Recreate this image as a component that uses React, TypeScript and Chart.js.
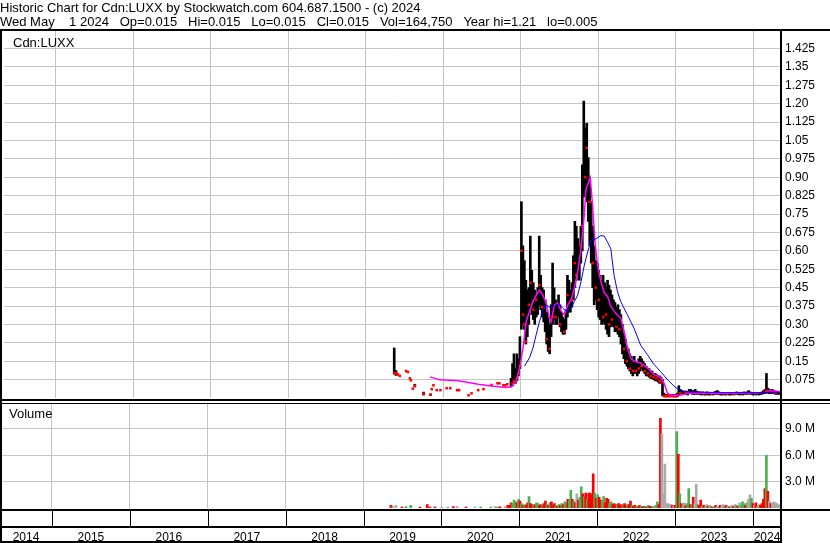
import React, { useEffect, useRef } from 'react';
import { Chart, registerables } from 'chart.js';
Chart.register(...registerables);

const FONT = "'Liberation Sans', Arial, sans-serif";
const GRID = '#c4c4c4';

// ---------- text ----------
const headerLines = [
  'Historic Chart for Cdn:LUXX by Stockwatch.com 604.687.1500 - (c) 2024',
  'Wed May    1 2024   Op=0.015   Hi=0.015   Lo=0.015   Cl=0.015   Vol=164,750   Year hi=1.21   lo=0.005',
];
const symbolLabel = 'Cdn:LUXX';
const volumeLabel = 'Volume';

// ---------- axes ----------
const xStart = 2014.3325;
const xEnd = 2024.359;
const yearBoundaries = [2015, 2016, 2017, 2018, 2019, 2020, 2021, 2022, 2023, 2024];
const yearLabels = ['2014', '2015', '2016', '2017', '2018', '2019', '2020', '2021', '2022', '2023', '2024'];
const priceMax = 1.5;
const priceTickValues = [0.075, 0.15, 0.225, 0.3, 0.375, 0.45, 0.525, 0.6, 0.675, 0.75, 0.825, 0.9, 0.975, 1.05, 1.125, 1.2, 1.275, 1.35, 1.425];
const priceTickLabels = ['0.075', '0.15', '0.225', '0.30', '0.375', '0.45', '0.525', '0.60', '0.675', '0.75', '0.825', '0.90', '0.975', '1.05', '1.125', '1.20', '1.275', '1.35', '1.425'];
const volumeMax = 12;
const volumeTickValues = [3, 6, 9];
const volumeTickLabels = ['3.0 M', '6.0 M', '9.0 M'];

// ---------- early sparse trading 2019-2020 ----------
// [year, low, high]
const earlyBars = [
  [2019.368, 0.100, 0.204], [2019.390, 0.092, 0.112], [2019.634, 0.045, 0.056],
  [2019.746, 0.012, 0.024], [2019.836, 0.010, 0.016],
];
// [year, close]
const earlyCloses = [
  [2019.368, 0.100], [2019.381, 0.101], [2019.400, 0.100], [2019.416, 0.096], [2019.440, 0.090],
  [2019.520, 0.110], [2019.545, 0.106], [2019.570, 0.080], [2019.583, 0.072], [2019.608, 0.038],
  [2019.634, 0.050], [2019.746, 0.018], [2019.836, 0.014], [2019.852, 0.036], [2019.874, 0.052],
  [2019.917, 0.032], [2019.964, 0.032], [2020.045, 0.040], [2020.092, 0.040], [2020.180, 0.032],
  [2020.205, 0.032], [2020.327, 0.011], [2020.366, 0.019], [2020.452, 0.032], [2020.520, 0.036],
  [2020.623, 0.053], [2020.700, 0.060], [2020.725, 0.060], [2020.777, 0.052], [2020.802, 0.052],
  [2020.828, 0.056],
];
// [year, volume (M), colour]
const earlyVolume = [
  [2019.352, 0.3, 'r'], [2019.377, 0.2, 's'], [2019.416, 0.3, 's'], [2019.493, 0.1, 'r'], [2019.544, 0.15, 'g'],
  [2019.605, 0.3, 'g'], [2019.724, 0.1, 'r'], [2019.818, 0.4, 'r'], [2019.852, 0.1, 'r'], [2019.917, 0.1, 'r'],
  [2020.003, 0.1, 's'], [2020.080, 0.1, 's'], [2020.152, 0.15, 'r'], [2020.203, 0.15, 's'], [2020.315, 0.1, 'r'],
  [2020.430, 0.1, 's'], [2020.503, 0.1, 'g'], [2020.632, 0.1, 'g'], [2020.687, 0.15, 's'], [2020.720, 0.1, 'g'],
  [2020.751, 0.12, 'r'], [2020.815, 0.15, 's'], [2020.850, 0.3, 'r'],
];

// ---------- weekly trading from Nov 2020 ----------
const weekStart = 2020.875;
const weekStep = 7 / 365.25;
const weeklyHigh = [
  0.08, 0.14, 0.18, 0.12, 0.18, 0.16, 0.25, 0.80, 0.62, 0.56,
  0.48, 0.44, 0.45, 0.66, 0.52, 0.47, 0.44, 0.42, 0.45, 0.66,
  0.50, 0.45, 0.44, 0.40, 0.35, 0.33, 0.30, 0.38, 0.55, 0.45,
  0.40, 0.38, 0.42, 0.38, 0.35, 0.33, 0.32, 0.36, 0.50, 0.48,
  0.44, 0.47, 0.58, 0.72, 0.70, 0.65, 0.62, 0.70, 0.95, 1.21,
  1.10, 1.12, 0.98, 0.90, 0.80, 0.70, 0.62, 0.56, 0.55, 0.52,
  0.50, 0.48, 0.50, 0.47, 0.45, 0.48, 0.46, 0.44, 0.42, 0.40,
  0.39, 0.37, 0.38, 0.36, 0.34, 0.30, 0.26, 0.24, 0.21, 0.20,
  0.18, 0.17, 0.16, 0.17, 0.15, 0.14, 0.16, 0.17, 0.16, 0.15,
  0.14, 0.13, 0.12, 0.12, 0.11, 0.11, 0.10, 0.10, 0.095, 0.09,
  0.09, 0.085, 0.075, 0.02, 0.015, 0.015, 0.012, 0.015, 0.012, 0.015,
  0.012, 0.015, 0.02, 0.05, 0.035, 0.03, 0.028, 0.025, 0.025, 0.022,
  0.035, 0.035, 0.03, 0.03, 0.035, 0.028, 0.025, 0.025, 0.022, 0.025,
  0.022, 0.02, 0.025, 0.022, 0.02, 0.022, 0.02, 0.025, 0.028, 0.03,
  0.025, 0.022, 0.02, 0.022, 0.02, 0.02, 0.022, 0.02, 0.02, 0.022,
  0.02, 0.022, 0.025, 0.022, 0.02, 0.022, 0.02, 0.025, 0.022, 0.025,
  0.03, 0.025, 0.022, 0.02, 0.022, 0.02, 0.022, 0.02, 0.022, 0.025,
  0.03, 0.035, 0.10, 0.04, 0.035, 0.03, 0.035, 0.03, 0.028, 0.025,
  0.025, 0.02,
];
const weeklyLow = [
  0.045, 0.05, 0.06, 0.06, 0.07, 0.09, 0.12, 0.28, 0.30, 0.28,
  0.22, 0.25, 0.30, 0.36, 0.34, 0.32, 0.30, 0.33, 0.34, 0.38,
  0.36, 0.33, 0.31, 0.27, 0.22, 0.19, 0.18, 0.25, 0.30, 0.32,
  0.30, 0.30, 0.33, 0.29, 0.27, 0.26, 0.26, 0.28, 0.33, 0.35,
  0.35, 0.37, 0.40, 0.45, 0.48, 0.50, 0.48, 0.55, 0.60, 0.82,
  0.85, 0.80, 0.72, 0.62, 0.55, 0.45, 0.38, 0.40, 0.36, 0.33,
  0.32, 0.30, 0.31, 0.30, 0.28, 0.26, 0.25, 0.29, 0.30, 0.29,
  0.27, 0.27, 0.26, 0.25, 0.22, 0.18, 0.16, 0.14, 0.13, 0.12,
  0.11, 0.10, 0.09, 0.10, 0.10, 0.09, 0.10, 0.11, 0.12, 0.11,
  0.10, 0.09, 0.09, 0.085, 0.08, 0.08, 0.075, 0.07, 0.07, 0.065,
  0.06, 0.06, 0.01, 0.005, 0.005, 0.005, 0.005, 0.005, 0.005, 0.005,
  0.005, 0.005, 0.005, 0.01, 0.015, 0.015, 0.015, 0.015, 0.015, 0.012,
  0.02, 0.02, 0.015, 0.015, 0.015, 0.015, 0.015, 0.015, 0.012, 0.015,
  0.012, 0.012, 0.015, 0.012, 0.012, 0.015, 0.012, 0.015, 0.015, 0.015,
  0.015, 0.012, 0.012, 0.015, 0.012, 0.012, 0.015, 0.012, 0.012, 0.015,
  0.012, 0.015, 0.015, 0.015, 0.012, 0.015, 0.012, 0.015, 0.015, 0.015,
  0.018, 0.015, 0.015, 0.012, 0.015, 0.012, 0.015, 0.012, 0.015, 0.015,
  0.018, 0.018, 0.02, 0.02, 0.018, 0.018, 0.02, 0.018, 0.015, 0.015,
  0.015, 0.015,
];
// [week index, close] marked in red
const weeklyRedCloses = [
  [1, 0.06], [2, 0.07], [4, 0.08], [5, 0.10], [6, 0.13], [7, 0.60], [8, 0.34], [9, 0.30], [10, 0.23],
  [12, 0.38], [13, 0.47], [15, 0.36], [17, 0.40], [19, 0.46], [21, 0.37], [24, 0.24], [26, 0.20],
  [28, 0.33], [30, 0.33], [33, 0.30], [36, 0.27], [38, 0.42], [41, 0.40], [43, 0.55], [44, 0.50],
  [47, 0.62], [48, 0.70], [50, 0.90], [51, 1.02], [53, 0.80], [55, 0.55], [57, 0.45], [59, 0.40],
  [62, 0.33], [64, 0.34], [66, 0.30], [68, 0.32], [71, 0.29], [73, 0.28], [76, 0.20], [78, 0.15],
  [80, 0.12], [82, 0.11], [84, 0.11], [86, 0.12], [88, 0.13], [90, 0.11], [92, 0.10], [94, 0.09],
  [96, 0.085], [98, 0.08], [100, 0.07], [101, 0.065], [103, 0.008], [104, 0.008], [105, 0.008],
  [106, 0.008], [107, 0.008], [108, 0.008], [109, 0.008], [110, 0.008], [111, 0.008], [112, 0.008],
  [114, 0.02], [118, 0.025], [122, 0.02], [126, 0.02], [130, 0.018], [135, 0.018], [140, 0.02],
  [145, 0.018], [150, 0.018], [155, 0.02], [160, 0.018], [165, 0.02], [172, 0.03], [175, 0.025], [178, 0.02],
];
const weeklyVolume = [
  0.3, 0.6, 0.5, 0.9, 0.7, 0.6, 1.0, 0.8, 0.5, 0.3,
  0.4, 0.3, 0.6, 1.3, 0.5, 0.4, 0.3, 0.4, 0.6, 0.5,
  0.3, 0.4, 0.3, 0.5, 0.8, 0.4, 0.3, 0.6, 0.7, 0.3,
  0.5, 0.3, 0.2, 0.4, 0.3, 0.5, 0.4, 0.7, 0.6, 1.0,
  0.9, 2.0, 1.0, 0.8, 0.6, 1.6, 0.9, 1.2, 2.4, 1.6,
  1.3, 1.7, 1.0, 1.7, 1.7, 1.5, 3.9, 1.7, 1.1, 1.5,
  1.2, 0.9, 0.8, 1.3, 0.6, 1.1, 1.0, 0.5, 0.7, 0.4,
  0.5, 0.4, 0.4, 0.5, 0.3, 0.4, 0.3, 0.5, 0.3, 0.4,
  0.4, 0.8, 0.3, 0.2, 0.3, 0.2, 0.1, 0.3, 0.2, 0.1,
  0.2, 0.2, 0.1, 0.3, 0.2, 0.1, 0.2, 0.2, 0.3, 0.7,
  0.4, 10.2, 8.4, 1.6, 5.0, 0.5, 0.5, 0.4, 0.4, 0.3,
  0.2, 0.3, 8.7, 6.1, 1.6, 0.5, 0.3, 0.6, 0.3, 0.5,
  2.2, 0.4, 0.3, 1.2, 0.5, 2.7, 0.4, 0.3, 0.9, 0.2,
  0.3, 0.2, 0.4, 0.2, 0.3, 0.2, 0.1, 0.2, 0.3, 0.2,
  0.1, 0.3, 0.2, 0.4, 0.2, 0.3, 0.2, 0.1, 0.2, 0.3,
  0.2, 0.4, 0.3, 0.2, 0.6, 0.3, 0.7, 0.5, 0.3, 0.6,
  1.0, 1.5, 1.1, 0.5, 0.3, 0.6, 0.2, 0.4, 0.3, 0.5,
  1.0, 2.2, 6.0, 1.9, 0.8, 0.5, 0.6, 0.7, 0.6, 0.5,
  0.4, 0.3,
];
// r = down day (red), g = up day (green), s = unchanged (grey)
const weeklyVolumeColour =
  'rrgggrgrgr' + 'grrgrrgrgg' + 'rrgrrgrgrr' + 'rgrgrgrggr' + 'ggrgrsrggr' +
  'grgrrrrgrg' + 'rrggrrrggr' + 'rrgrrrgrrg' + 'rrgrrgrrgr' + 'rgrgrrgsgg' +
  'rrsssssssr' + 'srgrgrgsrg' + 'grgrssgrrs' + 'rgsrsgrsrs' + 'grssgrsrgs' +
  'rsgrsgggrg' + 'ssgrsrgsrr' + 'rrgrsrssss' + 'ss';

// ---------- moving averages [year, value] ----------
const magentaMA = [
  [2019.831, 0.086], [2019.955, 0.074], [2020.195, 0.070], [2020.452, 0.056], [2020.623, 0.049],
  [2020.815, 0.043], [2020.879, 0.046], [2020.944, 0.070], [2020.986, 0.123], [2021.030, 0.204],
  [2021.072, 0.313], [2021.114, 0.354], [2021.158, 0.394], [2021.200, 0.418], [2021.243, 0.440],
  [2021.286, 0.420], [2021.329, 0.386], [2021.371, 0.325], [2021.393, 0.310], [2021.435, 0.379],
  [2021.479, 0.386], [2021.521, 0.354], [2021.564, 0.339], [2021.607, 0.379], [2021.650, 0.400],
  [2021.692, 0.446], [2021.736, 0.515], [2021.778, 0.608], [2021.820, 0.743], [2021.842, 0.850],
  [2021.897, 0.898], [2021.928, 0.783], [2021.958, 0.636], [2021.992, 0.540], [2022.035, 0.475],
  [2022.077, 0.430], [2022.121, 0.414], [2022.163, 0.374], [2022.227, 0.345], [2022.291, 0.325],
  [2022.334, 0.273], [2022.377, 0.204], [2022.420, 0.163], [2022.462, 0.151], [2022.548, 0.143],
  [2022.634, 0.123], [2022.719, 0.096], [2022.805, 0.083], [2022.847, 0.063], [2022.891, 0.022],
  [2022.933, 0.010], [2023.062, 0.012], [2023.190, 0.020], [2023.575, 0.018], [2023.960, 0.020],
  [2024.153, 0.022], [2024.217, 0.030], [2024.358, 0.025],
];
const blueMA = [
  [2021.050, 0.130], [2021.114, 0.164], [2021.158, 0.204], [2021.200, 0.258], [2021.243, 0.313],
  [2021.286, 0.354], [2021.329, 0.379], [2021.371, 0.370], [2021.414, 0.370], [2021.457, 0.380],
  [2021.499, 0.380], [2021.543, 0.366], [2021.585, 0.355], [2021.650, 0.366], [2021.692, 0.393],
  [2021.736, 0.420], [2021.778, 0.474], [2021.820, 0.540], [2021.864, 0.595], [2021.906, 0.642],
  [2021.970, 0.649], [2022.035, 0.662], [2022.077, 0.660], [2022.121, 0.635], [2022.163, 0.608],
  [2022.205, 0.500], [2022.249, 0.433], [2022.291, 0.393], [2022.377, 0.339], [2022.462, 0.285],
  [2022.548, 0.215], [2022.634, 0.177], [2022.719, 0.137], [2022.805, 0.108], [2022.891, 0.076],
  [2022.976, 0.049], [2023.040, 0.033], [2023.104, 0.028], [2023.190, 0.025], [2023.575, 0.022],
  [2024.088, 0.022], [2024.358, 0.024],
];

const COLOURS: Record<string, string> = { r: '#ff0000', g: '#4caf50', s: '#a9a9a9' };

const weekX = (i: number) => weekStart + i * weekStep;

function xScale() {
  return {
    type: 'linear',
    min: xStart,
    max: xEnd,
    offset: false,
    grid: { color: GRID, lineWidth: 1, drawTicks: false, offset: false },
    border: { display: false },
    ticks: { display: false },
    afterBuildTicks: (s: any) => { s.ticks = yearBoundaries.map((v) => ({ value: v })); },
    afterFit: (s: any) => { s.height = 0; s.paddingLeft = 0; s.paddingRight = 0; },
  };
}

function rightScale(max: number, values: number[], labels: string[]) {
  return {
    type: 'linear',
    position: 'right',
    min: 0,
    max,
    grid: { color: GRID, lineWidth: 1, drawTicks: false },
    border: { display: false },
    ticks: {
      color: '#000',
      font: { family: FONT, size: 12 },
      padding: 4,
      autoSkip: false,
      callback: (_v: any, i: number) => labels[i],
    },
    afterBuildTicks: (s: any) => { s.ticks = values.map((v) => ({ value: v })); },
    afterFit: (s: any) => { s.width = 49; s.paddingTop = 0; s.paddingBottom = 0; },
  };
}

const baseOptions = {
  responsive: false,
  maintainAspectRatio: false,
  animation: false,
  devicePixelRatio: 1,
  events: [],
};

export default function App() {
  const priceRef = useRef<HTMLCanvasElement>(null);
  const volRef = useRef<HTMLCanvasElement>(null);
  const yearRef = useRef<HTMLCanvasElement>(null);

  useEffect(() => {
    const charts: Chart[] = [];

    // ----- price panel -----
    const bars = [
      ...earlyBars.map(([x, lo, hi]) => ({ x, y: [lo, hi] })),
      ...weeklyHigh.map((hi, i) => ({ x: weekX(i), y: [weeklyLow[i], hi] })),
    ];
    const closes = [
      ...earlyCloses.map(([x, y]) => ({ x, y })),
      ...weeklyRedCloses.map(([i, y]) => ({ x: weekX(i), y })),
    ];
    const priceFrame = {
      id: 'priceFrame',
      afterDraw(chart: any) {
        const { ctx, chartArea: a, width, height } = chart;
        ctx.save();
        ctx.fillStyle = '#000';
        ctx.fillRect(0, a.top - 1, width, 2);
        ctx.fillRect(0, a.top - 1, 2, height - a.top + 1);
        ctx.fillRect(a.right - 1, a.top - 1, 2, height - a.top + 1);
        ctx.fillRect(0, height - 3, width, 2);
        ctx.font = `13px ${FONT}`;
        ctx.textBaseline = 'alphabetic';
        ctx.textAlign = 'left';
        ctx.fillText(symbolLabel, a.left + 9, a.top + 16.5);
        ctx.restore();
      },
    };
    charts.push(new Chart(priceRef.current!, {
      type: 'bar',
      data: {
        datasets: [
          { type: 'line', data: blueMA.map(([x, y]) => ({ x, y })), borderColor: '#0000ff', borderWidth: 1, pointRadius: 0, tension: 0, order: 1 } as any,
          { type: 'line', data: magentaMA.map(([x, y]) => ({ x, y })), borderColor: '#ff00ff', borderWidth: 1.5, pointRadius: 0, tension: 0, order: 2 } as any,
          { type: 'scatter', data: closes, pointStyle: 'rect', pointRadius: 1.8, backgroundColor: '#ff0000', borderWidth: 0, order: 3 } as any,
          { type: 'bar', data: bars, backgroundColor: '#000000', barThickness: 2, borderWidth: 0, order: 4 } as any,
        ],
      },
      options: {
        ...baseOptions,
        layout: { padding: { top: 0, bottom: 1.8, left: 0, right: 0 } },
        plugins: {
          legend: { display: false },
          tooltip: { enabled: false },
          title: {
            display: true,
            text: headerLines,
            align: 'start',
            color: '#000',
            font: { family: FONT, size: 13, weight: 'normal', lineHeight: 1.0308 },
            padding: { top: 2.1, bottom: 1.1 },
          },
        },
        scales: { x: xScale(), y: rightScale(priceMax, priceTickValues, priceTickLabels) },
      } as any,
      plugins: [priceFrame],
    }));

    // ----- volume panel -----
    const volData = [
      ...earlyVolume.map(([x, y]) => ({ x, y })),
      ...weeklyVolume.map((y, i) => ({ x: weekX(i), y })),
    ];
    const volColours = [
      ...earlyVolume.map((e) => COLOURS[e[2] as string]),
      ...weeklyVolume.map((_, i) => COLOURS[weeklyVolumeColour[i]]),
    ];
    const volFrame = {
      id: 'volFrame',
      afterDraw(chart: any) {
        const { ctx, chartArea: a, width, height } = chart;
        ctx.save();
        ctx.fillStyle = '#000';
        ctx.fillRect(0, 1, width, 1);
        ctx.fillRect(0, 0, 2, height);
        ctx.fillRect(a.right - 1, 0, 2, height);
        ctx.font = `13px ${FONT}`;
        ctx.textBaseline = 'alphabetic';
        ctx.textAlign = 'left';
        ctx.fillText(volumeLabel, a.left + 9, 16);
        ctx.restore();
      },
    };
    charts.push(new Chart(volRef.current!, {
      type: 'bar',
      data: {
        datasets: [
          { type: 'bar', data: volData, backgroundColor: volColours, barThickness: 2, borderWidth: 0 } as any,
        ],
      },
      options: {
        ...baseOptions,
        layout: { padding: { top: 0.5, bottom: 1, left: 0, right: 0 } },
        plugins: { legend: { display: false }, tooltip: { enabled: false } },
        scales: { x: xScale(), y: rightScale(volumeMax, volumeTickValues, volumeTickLabels) },
      } as any,
      plugins: [volFrame],
    }));

    // ----- year axis -----
    const yearMids = yearLabels.map((_, i) => {
      const a = i === 0 ? xStart : yearBoundaries[i - 1];
      const b = i < yearBoundaries.length ? yearBoundaries[i] : xEnd;
      return (a + b) / 2;
    });
    const yearFrame = {
      id: 'yearFrame',
      afterDraw(chart: any) {
        const { ctx, chartArea: a, height } = chart;
        const xs = chart.scales.x;
        ctx.save();
        ctx.fillStyle = '#000';
        ctx.fillRect(0, 0, chart.width, 2);
        ctx.fillRect(0, a.bottom - 2, a.right + 1, 2);
        ctx.fillRect(0, height - 2, a.right + 1, 2);
        ctx.fillRect(0, 0, 2, height);
        ctx.fillRect(a.right - 1, 0, 2, height);
        yearBoundaries.forEach((y) => {
          const px = Math.round(xs.getPixelForValue(y));
          ctx.fillRect(px, 2, 1, a.bottom - 4);
        });
        ctx.restore();
      },
    };
    charts.push(new Chart(yearRef.current!, {
      type: 'scatter',
      data: { datasets: [] },
      options: {
        ...baseOptions,
        layout: { padding: { top: 0, bottom: 0, left: 0, right: 49 } },
        plugins: { legend: { display: false }, tooltip: { enabled: false } },
        scales: {
          x: {
            type: 'linear',
            min: xStart,
            max: xEnd,
            position: 'bottom',
            grid: { display: false },
            border: { display: false },
            ticks: {
              color: '#000',
              font: { family: FONT, size: 12 },
              padding: -6,
              autoSkip: false,
              maxRotation: 0,
              callback: (_v: any, i: number) => yearLabels[i],
            },
            afterBuildTicks: (s: any) => { s.ticks = yearMids.map((v) => ({ value: v })); },
            afterFit: (s: any) => { s.height = 15; s.paddingLeft = 0; s.paddingRight = 0; },
          },
          y: { display: false, min: 0, max: 1 },
        },
      } as any,
      plugins: [yearFrame],
    }));

    return () => charts.forEach((c) => c.destroy());
  }, []);

  const cs = (top: number, h: number) => ({ position: 'absolute' as const, left: 0, top, width: 830, height: h, display: 'block' });
  return (
    <div style={{ position: 'absolute', left: 0, top: 0, width: 830, height: 543, background: '#fff', overflow: 'hidden' }}>
      <canvas ref={priceRef} width={830} height={402} style={cs(0, 402)} />
      <canvas ref={volRef} width={830} height={107} style={cs(402, 107)} />
      <canvas ref={yearRef} width={830} height={34} style={cs(509, 34)} />
    </div>
  );
}
